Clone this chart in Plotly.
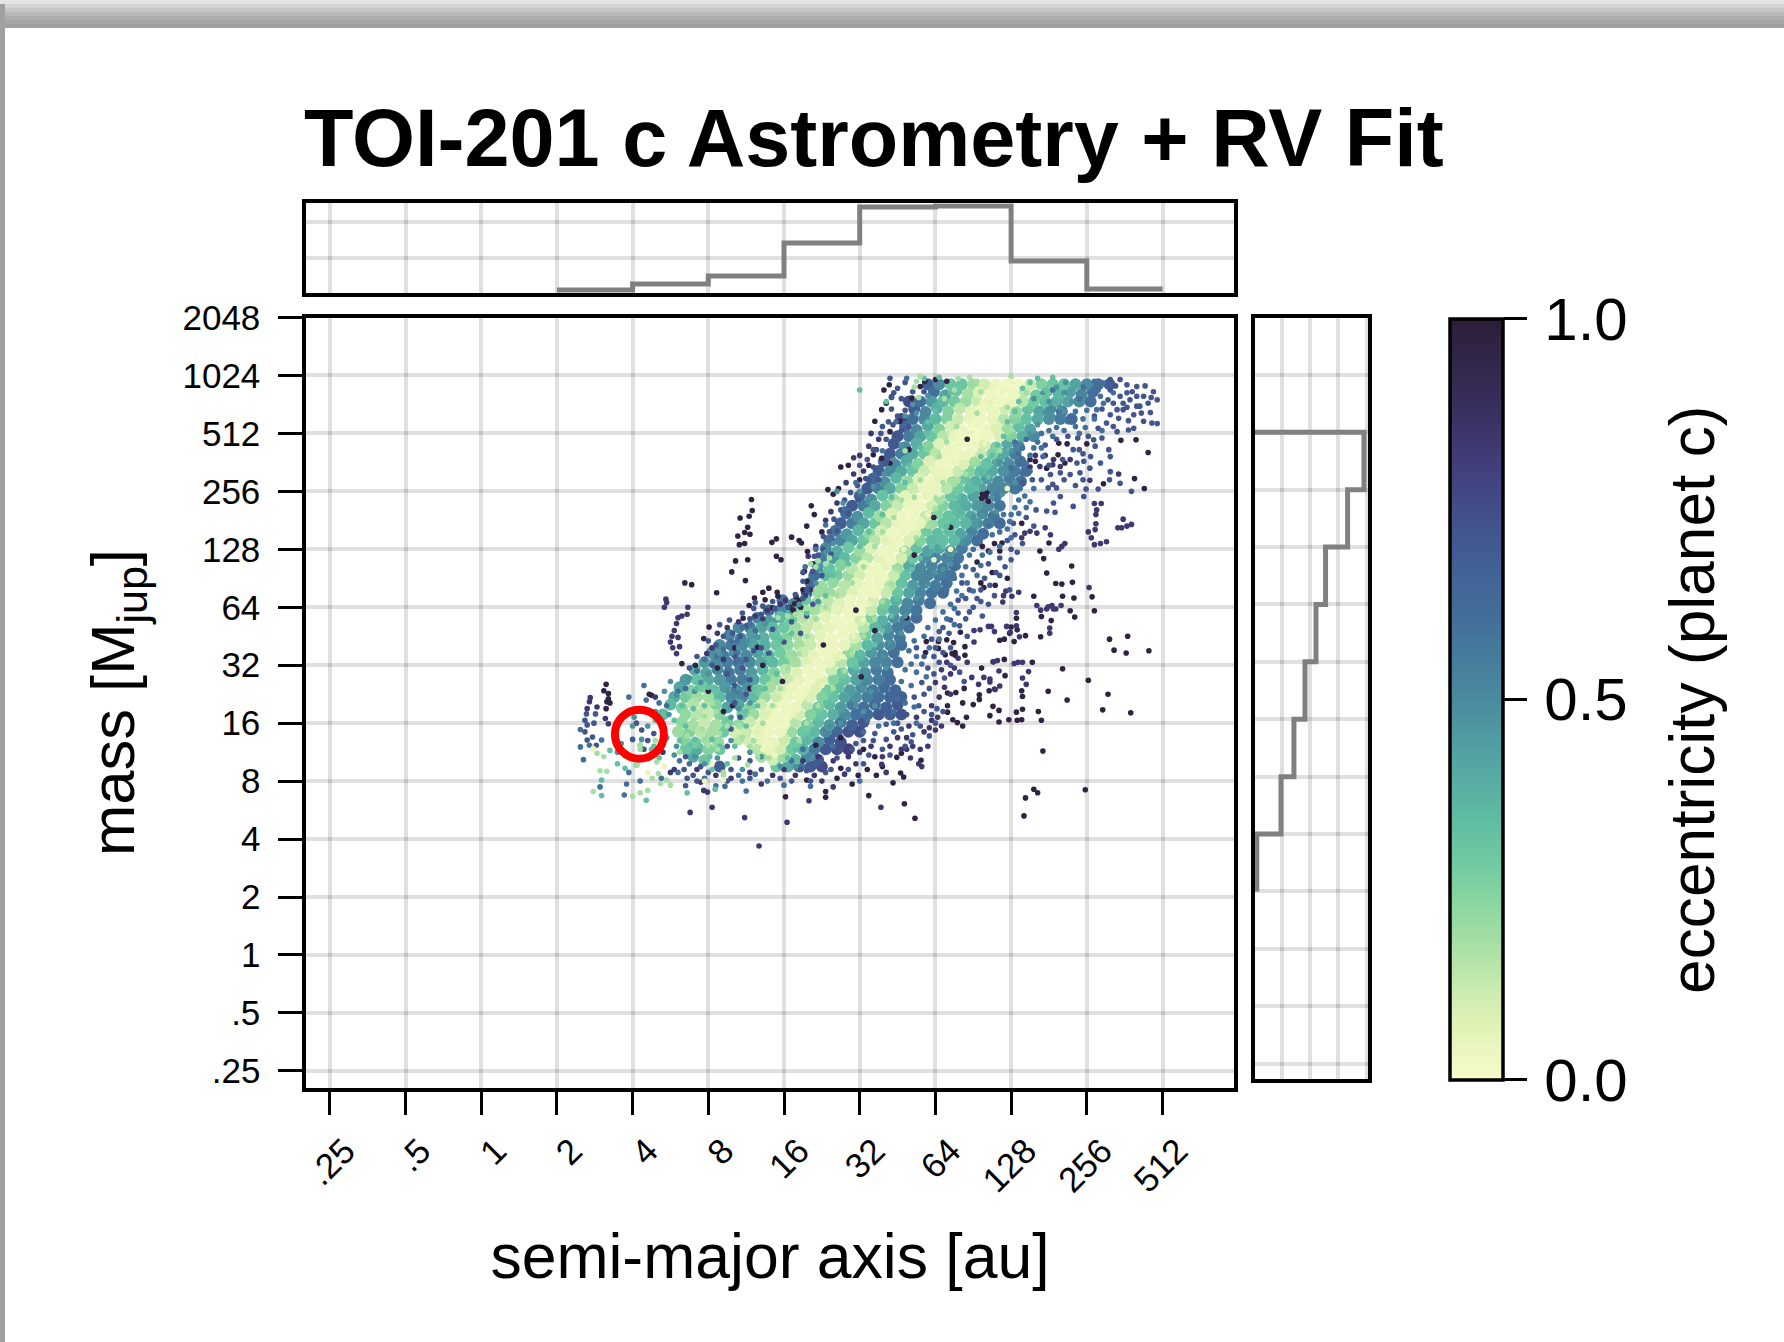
import plotly.graph_objects as go
import math

tick_values = [0.25, 0.5, 1, 2, 4, 8, 16, 32, 64, 128, 256, 512]
tick_labels = [".25", ".5", "1", "2", "4", "8", "16", "32", "64", "128", "256", "512"]
mass_tick_values = [0.25, 0.5, 1, 2, 4, 8, 16, 32, 64, 128, 256, 512, 1024, 2048]
mass_tick_labels = [".25", ".5", "1", "2", "4", "8", "16", "32", "64", "128", "256", "512", "1024", "2048"]

top_hist_edges = [2, 4, 8, 16, 32, 64, 128, 256, 512]
top_hist_levels = [0.033, 0.10, 0.19, 0.557, 0.958, 0.969, 0.356, 0.045, 0.045]
side_hist_levels = [0, 0.963, 0.819, 0.625, 0.541, 0.444, 0.347, 0.233, 0.02, 0.02]
side_hist_edges = [512, 512, 256, 128, 64, 32, 16, 8, 4, 2]

toi201c_log2_sma = [2.09]
toi201c_log2_mass = [3.81]

# densely covered part of the cloud: (log2 a, log2 m, e)
dense_cloud = [
(5.9,9.85,.68),(6.05,9.85,.5),(6.2,9.85,.3),(6.35,9.85,.3),(6.5,9.85,.2),(6.65,9.85,.1),(6.8,9.85,.03),(6.95,9.85,.02),(7.1,9.85,.02),(7.25,9.85,.12),(7.4,9.85,.25),(7.55,9.85,.3),(7.7,9.85,.32),(7.85,9.85,.42),(8.0,9.85,.5),(8.15,9.85,.6),(8.3,9.85,.68),
(5.65,9.55,.75),(5.8,9.55,.6),(5.95,9.55,.45),(6.1,9.55,.35),(6.25,9.55,.28),(6.4,9.55,.2),(6.55,9.55,.12),(6.7,9.55,.06),(6.85,9.55,.03),(7.0,9.55,.05),(7.15,9.55,.15),(7.3,9.55,.28),(7.45,9.55,.33),(7.6,9.55,.38),(7.75,9.55,.42),(7.9,9.55,.5),(8.05,9.55,.6),
(5.55,9.25,.8),(5.7,9.25,.6),(5.85,9.25,.5),(6.0,9.25,.35),(6.15,9.25,.25),(6.3,9.25,.12),(6.45,9.25,.05),(6.6,9.25,.03),(6.75,9.25,.05),(6.9,9.25,.15),(7.05,9.25,.25),(7.2,9.25,.32),(7.35,9.25,.4),(7.5,9.25,.48),(7.65,9.25,.55),(7.8,9.25,.62),
(5.5,8.95,.72),(5.65,8.95,.55),(5.8,8.95,.42),(5.95,8.95,.3),(6.1,8.95,.15),(6.25,8.95,.05),(6.4,8.95,.03),(6.55,8.95,.02),(6.7,8.95,.03),(6.85,8.95,.08),(7.0,8.95,.25),(7.15,8.95,.38),(7.3,8.95,.5),
(5.4,8.65,.7),(5.55,8.65,.55),(5.7,8.65,.4),(5.85,8.65,.3),(6.0,8.65,.15),(6.15,8.65,.04),(6.3,8.65,.03),(6.45,8.65,.04),(6.6,8.65,.12),(6.75,8.65,.25),(6.9,8.65,.4),(7.05,8.65,.55),
(5.25,8.35,.7),(5.4,8.35,.5),(5.55,8.35,.4),(5.7,8.35,.3),(5.85,8.35,.12),(6.0,8.35,.05),(6.15,8.35,.04),(6.3,8.35,.12),(6.45,8.35,.25),(6.6,8.35,.35),(6.75,8.35,.4),(6.9,8.35,.48),(7.05,8.35,.55),(7.2,8.35,.6),
(5.1,8.05,.7),(5.25,8.05,.55),(5.4,8.05,.4),(5.55,8.05,.25),(5.7,8.05,.12),(5.85,8.05,.04),(6.0,8.05,.05),(6.15,8.05,.15),(6.3,8.05,.28),(6.45,8.05,.35),(6.6,8.05,.42),(6.75,8.05,.5),(6.9,8.05,.52),(7.05,8.05,.58),
(4.9,7.75,.7),(5.05,7.75,.55),(5.2,7.75,.4),(5.35,7.75,.25),(5.5,7.75,.12),(5.65,7.75,.04),(5.8,7.75,.03),(5.95,7.75,.1),(6.1,7.75,.25),(6.25,7.75,.35),(6.4,7.75,.4),(6.55,7.75,.45),(6.7,7.75,.5),(6.85,7.75,.58),
(4.75,7.45,.68),(4.9,7.45,.55),(5.05,7.45,.42),(5.2,7.45,.3),(5.35,7.45,.15),(5.5,7.45,.05),(5.65,7.45,.03),(5.8,7.45,.05),(5.95,7.45,.2),(6.1,7.45,.3),(6.25,7.45,.33),(6.4,7.45,.36),(6.55,7.45,.45),(6.7,7.45,.55),(6.85,7.45,.62),
(4.6,7.15,.62),(4.75,7.15,.5),(4.9,7.15,.42),(5.05,7.15,.3),(5.2,7.15,.15),(5.35,7.15,.06),(5.5,7.15,.03),(5.65,7.15,.08),(5.8,7.15,.25),(5.95,7.15,.35),(6.1,7.15,.33),(6.25,7.15,.35),(6.4,7.15,.5),(6.55,7.15,.6),
(4.5,6.85,.55),(4.65,6.85,.45),(4.8,6.85,.35),(4.95,6.85,.25),(5.1,6.85,.15),(5.25,6.85,.06),(5.4,6.85,.03),(5.55,6.85,.1),(5.7,6.85,.3),(5.85,6.85,.48),(6.0,6.85,.52),(6.15,6.85,.52),(6.3,6.85,.58),
(4.4,6.55,.6),(4.55,6.55,.35),(4.7,6.55,.28),(4.85,6.55,.2),(5.0,6.55,.1),(5.15,6.55,.03),(5.3,6.55,.03),(5.45,6.55,.12),(5.6,6.55,.32),(5.75,6.55,.5),(5.9,6.55,.52),(6.05,6.55,.55),(6.2,6.55,.58),
(4.3,6.25,.65),(4.45,6.25,.2),(4.6,6.25,.2),(4.75,6.25,.15),(4.9,6.25,.08),(5.05,6.25,.03),(5.2,6.25,.03),(5.35,6.25,.12),(5.5,6.25,.3),(5.65,6.25,.42),(5.8,6.25,.52),(5.95,6.25,.58),(6.1,6.25,.62),
(3.8,5.95,.6),(3.95,5.95,.5),(4.1,5.95,.4),(4.25,5.95,.2),(4.4,5.95,.18),(4.55,5.95,.12),(4.7,5.95,.06),(4.85,5.95,.03),(5.0,5.95,.03),(5.15,5.95,.12),(5.3,5.95,.3),(5.45,5.95,.42),(5.6,5.95,.52),(5.75,5.95,.58),
(3.4,5.65,.5),(3.55,5.65,.55),(3.7,5.65,.42),(3.85,5.65,.35),(4.0,5.65,.3),(4.15,5.65,.2),(4.3,5.65,.12),(4.45,5.65,.08),(4.6,5.65,.05),(4.75,5.65,.03),(4.9,5.65,.04),(5.05,5.65,.15),(5.2,5.65,.35),(5.35,5.65,.45),(5.5,5.65,.55),(5.65,5.65,.6),
(3.15,5.35,.5),(3.3,5.35,.55),(3.45,5.35,.5),(3.6,5.35,.42),(3.75,5.35,.38),(3.9,5.35,.3),(4.05,5.35,.22),(4.2,5.35,.18),(4.35,5.35,.12),(4.5,5.35,.05),(4.65,5.35,.03),(4.8,5.35,.05),(4.95,5.35,.18),(5.1,5.35,.35),(5.25,5.35,.48),(5.4,5.35,.52),(5.55,5.35,.6),
(2.95,5.05,.45),(3.1,5.05,.5),(3.25,5.05,.55),(3.4,5.05,.6),(3.55,5.05,.5),(3.7,5.05,.42),(3.85,5.05,.35),(4.0,5.05,.28),(4.15,5.05,.18),(4.3,5.05,.08),(4.45,5.05,.03),(4.6,5.05,.04),(4.75,5.05,.15),(4.9,5.05,.3),(5.05,5.05,.42),(5.2,5.05,.5),(5.35,5.05,.52),(5.5,5.05,.6),
(2.7,4.75,.45),(2.85,4.75,.32),(3.0,4.75,.4),(3.15,4.75,.45),(3.3,4.75,.55),(3.45,4.75,.55),(3.6,4.75,.42),(3.75,4.75,.3),(3.9,4.75,.2),(4.05,4.75,.12),(4.2,4.75,.05),(4.35,4.75,.03),(4.5,4.75,.08),(4.65,4.75,.25),(4.8,4.75,.32),(4.95,4.75,.42),(5.1,4.75,.5),(5.25,4.75,.55),(5.4,4.75,.62),
(2.55,4.45,.4),(2.7,4.45,.28),(2.85,4.45,.2),(3.0,4.45,.2),(3.15,4.45,.35),(3.3,4.45,.5),(3.45,4.45,.52),(3.6,4.45,.35),(3.75,4.45,.2),(3.9,4.45,.12),(4.05,4.45,.04),(4.2,4.45,.03),(4.35,4.45,.08),(4.5,4.45,.25),(4.65,4.45,.32),(4.8,4.45,.42),(4.95,4.45,.48),(5.1,4.45,.55),(5.25,4.45,.6),(5.4,4.45,.65),(5.55,4.45,.68),
(2.4,4.15,.35),(2.7,4.15,.22),(2.85,4.15,.15),(3.0,4.15,.12),(3.15,4.15,.25),(3.45,4.15,.3),(3.6,4.15,.2),(3.75,4.15,.08),(3.9,4.15,.03),(4.05,4.15,.03),(4.2,4.15,.1),(4.35,4.15,.25),(4.5,4.15,.32),(4.65,4.15,.38),(4.8,4.15,.5),(4.95,4.15,.6),(5.1,4.15,.62),(5.25,4.15,.7),(5.4,4.15,.68),(5.55,4.15,.72),
(2.6,3.85,.2),(2.75,3.85,.25),(2.9,3.85,.15),(3.05,3.85,.18),(3.2,3.85,.3),(3.35,3.85,.1),(3.5,3.85,.12),(3.65,3.85,.06),(3.8,3.85,.03),(3.95,3.85,.04),(4.1,3.85,.2),(4.25,3.85,.3),(4.4,3.85,.35),(4.55,3.85,.5),(4.7,3.85,.65),(4.85,3.85,.72),(5.0,3.85,.75),
(2.7,3.55,.3),(2.85,3.55,.4),(3.0,3.55,.25),(3.15,3.55,.3),(3.65,3.55,.15),(3.8,3.55,.05),(3.95,3.55,.1),(4.1,3.55,.28),(4.25,3.55,.38),(4.4,3.55,.55),(4.55,3.55,.7),(4.7,3.55,.75),(4.85,3.55,.8),
(3.15,3.25,.7),(3.9,3.25,.3),(4.05,3.25,.4),(4.2,3.25,.6),(4.35,3.25,.7),(4.5,3.25,.75),
]
dense_cloud_between = [
(5.98,9.72,.6),(6.13,9.66,.42),(6.28,9.74,.3),(6.43,9.68,.18),(6.58,9.72,.08),(6.73,9.67,.03),(6.88,9.73,.02),(7.03,9.68,.03),(7.18,9.72,.14),(7.33,9.66,.28),(7.48,9.73,.32),(7.63,9.68,.36),(7.78,9.72,.44),(7.93,9.67,.52),(8.08,9.72,.62),
(5.72,9.42,.7),(5.87,9.37,.5),(6.02,9.44,.38),(6.17,9.38,.25),(6.32,9.43,.14),(6.47,9.37,.06),(6.62,9.42,.03),(6.77,9.38,.04),(6.92,9.43,.1),(7.07,9.37,.22),(7.22,9.42,.32),(7.37,9.38,.42),(7.52,9.43,.5),(7.67,9.38,.58),
(5.6,9.12,.65),(5.75,9.06,.5),(5.9,9.13,.4),(6.05,9.07,.25),(6.2,9.12,.1),(6.35,9.06,.03),(6.5,9.13,.02),(6.65,9.07,.03),(6.8,9.12,.08),(6.95,9.07,.2),(7.1,9.12,.32),(7.25,9.07,.42),
(5.45,8.82,.7),(5.6,8.76,.5),(5.75,8.83,.38),(5.9,8.77,.25),(6.05,8.82,.08),(6.2,8.77,.03),(6.35,8.83,.02),(6.5,8.77,.03),(6.65,8.82,.1),(6.8,8.76,.25),(6.95,8.83,.4),(7.1,8.78,.52),
(5.32,8.52,.68),(5.47,8.46,.5),(5.62,8.53,.4),(5.77,8.47,.25),(5.92,8.52,.08),(6.07,8.47,.03),(6.22,8.53,.03),(6.37,8.47,.08),(6.52,8.52,.2),(6.67,8.47,.32),(6.82,8.52,.42),(6.97,8.47,.5),(7.12,8.52,.6),
(5.18,8.22,.65),(5.33,8.16,.48),(5.48,8.23,.35),(5.63,8.17,.22),(5.78,8.22,.08),(5.93,8.17,.03),(6.08,8.23,.06),(6.23,8.17,.18),(6.38,8.22,.3),(6.53,8.17,.38),(6.68,8.22,.45),(6.83,8.17,.5),(6.98,8.22,.55),(7.13,8.17,.6),
(5.0,7.92,.65),(5.15,7.86,.48),(5.3,7.93,.32),(5.45,7.87,.18),(5.6,7.92,.06),(5.75,7.87,.03),(5.9,7.93,.05),(6.05,7.87,.18),(6.2,7.92,.3),(6.35,7.87,.38),(6.5,7.92,.42),(6.65,7.87,.48),(6.8,7.92,.55),
(4.82,7.62,.62),(4.97,7.56,.48),(5.12,7.63,.35),(5.27,7.57,.2),(5.42,7.62,.08),(5.57,7.57,.03),(5.72,7.63,.03),(5.87,7.57,.12),(6.02,7.62,.25),(6.17,7.57,.32),(6.32,7.62,.36),(6.47,7.57,.42),(6.62,7.62,.5),(6.77,7.57,.58),
(4.68,7.32,.58),(4.83,7.26,.46),(4.98,7.33,.36),(5.13,7.27,.22),(5.28,7.32,.1),(5.43,7.27,.03),(5.58,7.33,.03),(5.73,7.27,.08),(5.88,7.32,.28),(6.03,7.27,.33),(6.18,7.32,.33),(6.33,7.27,.42),(6.48,7.32,.52),(6.63,7.27,.6),
(4.55,7.02,.5),(4.7,6.96,.4),(4.85,7.03,.3),(5.0,6.97,.2),(5.15,7.02,.08),(5.3,6.97,.03),(5.45,7.03,.04),(5.6,6.97,.18),(5.75,7.02,.32),(5.9,6.97,.42),(6.05,7.02,.42),(6.2,6.97,.48),(6.35,7.02,.55),
(4.45,6.72,.45),(4.6,6.66,.32),(4.75,6.73,.25),(4.9,6.67,.15),(5.05,6.72,.06),(5.2,6.67,.03),(5.35,6.73,.06),(5.5,6.67,.2),(5.65,6.72,.4),(5.8,6.67,.5),(5.95,6.72,.52),(6.1,6.67,.55),(6.25,6.72,.6),
(4.35,6.42,.62),(4.5,6.36,.2),(4.65,6.43,.22),(4.8,6.37,.15),(4.95,6.42,.06),(5.1,6.37,.03),(5.25,6.43,.04),(5.4,6.37,.15),(5.55,6.42,.32),(5.7,6.37,.45),(5.85,6.42,.52),(6.0,6.37,.55),(6.15,6.42,.6),
(3.98,6.12,.6),(4.13,6.06,.5),(4.28,6.13,.3),(4.43,6.07,.2),(4.58,6.12,.14),(4.73,6.07,.08),(4.88,6.13,.03),(5.03,6.07,.03),(5.18,6.12,.1),(5.33,6.07,.28),(5.48,6.12,.38),(5.63,6.07,.5),(5.78,6.12,.55),(5.93,6.07,.6),
(3.65,5.82,.52),(3.8,5.76,.45),(3.95,5.83,.35),(4.1,5.77,.28),(4.25,5.82,.16),(4.4,5.77,.12),(4.55,5.83,.06),(4.7,5.77,.03),(4.85,5.82,.03),(5.0,5.77,.1),(5.15,5.82,.25),(5.3,5.77,.38),(5.45,5.82,.48),(5.6,5.77,.55),(5.75,5.82,.62),
(3.28,5.52,.52),(3.43,5.46,.52),(3.58,5.53,.45),(3.73,5.47,.38),(3.88,5.52,.32),(4.03,5.47,.25),(4.18,5.52,.18),(4.33,5.47,.12),(4.48,5.52,.06),(4.63,5.47,.03),(4.78,5.52,.03),(4.93,5.47,.1),(5.08,5.52,.28),(5.23,5.47,.42),(5.38,5.52,.5),(5.53,5.47,.58),
(3.05,5.22,.48),(3.2,5.16,.55),(3.35,5.23,.58),(3.5,5.17,.5),(3.65,5.22,.42),(3.8,5.17,.36),(3.95,5.22,.28),(4.1,5.17,.2),(4.25,5.22,.12),(4.4,5.17,.05),(4.55,5.22,.03),(4.7,5.17,.06),(4.85,5.22,.22),(5.0,5.17,.36),(5.15,5.22,.45),(5.3,5.17,.52),(5.45,5.22,.6),
(2.82,4.92,.4),(2.97,4.86,.42),(3.12,4.93,.5),(3.27,4.87,.58),(3.42,4.92,.55),(3.57,4.87,.45),(3.72,4.92,.36),(3.87,4.87,.25),(4.02,4.92,.15),(4.17,4.87,.08),(4.32,4.92,.03),(4.47,4.87,.03),(4.62,4.92,.12),(4.77,4.87,.28),(4.92,4.92,.4),(5.07,4.87,.48),(5.22,4.92,.55),(5.37,4.87,.6),
(2.62,4.62,.42),(2.77,4.56,.25),(2.92,4.63,.28),(3.07,4.57,.32),(3.22,4.62,.45),(3.37,4.57,.55),(3.52,4.62,.48),(3.67,4.57,.3),(3.82,4.62,.18),(3.97,4.57,.08),(4.12,4.62,.04),(4.27,4.57,.03),(4.42,4.62,.08),(4.57,4.57,.28),(4.72,4.62,.35),(4.87,4.57,.45),(5.02,4.62,.5),(5.17,4.57,.58),(5.32,4.62,.62),(5.47,4.57,.66),
(2.5,4.32,.35),(2.65,4.26,.25),(2.8,4.33,.16),(2.95,4.27,.14),(3.1,4.32,.25),(3.25,4.27,.42),(3.4,4.32,.42),(3.55,4.27,.25),(3.7,4.32,.12),(3.85,4.27,.06),(4.0,4.32,.03),(4.15,4.27,.04),(4.3,4.32,.14),(4.45,4.27,.28),(4.6,4.32,.35),(4.75,4.27,.45),(4.9,4.32,.55),(5.05,4.27,.6),(5.2,4.32,.65),(5.35,4.27,.68),(5.5,4.32,.7),
(2.65,4.02,.22),(2.8,3.96,.18),(2.95,4.03,.12),(3.1,3.97,.18),(3.25,4.02,.28),(3.4,3.97,.22),(3.55,4.02,.12),(3.7,3.97,.06),(3.85,4.02,.03),(4.0,3.97,.03),(4.15,4.02,.15),(4.3,3.97,.28),(4.45,4.02,.35),(4.6,3.97,.45),(4.75,4.02,.58),(4.9,3.97,.68),(5.05,4.02,.72),
(2.68,3.72,.25),(2.83,3.66,.28),(2.98,3.73,.2),(3.13,3.67,.22),(3.4,3.72,.15),(3.55,3.67,.1),(3.7,3.72,.05),(3.85,3.67,.04),(4.0,3.72,.12),(4.15,3.67,.28),(4.3,3.72,.36),(4.45,3.67,.5),(4.6,3.72,.68),(4.75,3.67,.74),
(2.8,3.42,.4),(2.95,3.36,.3),(3.7,3.42,.18),(3.85,3.37,.1),(4.0,3.42,.22),(4.15,3.37,.35),(4.3,3.42,.5),(4.45,3.37,.7),
]

# individually visible points, one list per eccentricity class: (log2 a, log2 m)
e_layers = [0.97, 0.84, 0.72, 0.6, 0.48, 0.33, 0.18, 0.04]
near_black = [
(3.57,7.86),(3.58,7.67),(3.54,7.57),(3.42,7.54),(3.52,7.38),(3.39,7.23),(3.48,7.29),(3.55,7.26),(3.41,7.08),(3.48,7.1),(3.9,7.18),(3.84,7.12),(4.1,7.21),(4.2,7.15),(4.23,7.11),(4.31,6.96),(3.9,6.88),(3.96,6.82),(3.36,6.8),(3.52,6.82),(3.31,6.61),(3.49,6.46),(3.11,6.25),(2.69,6.42),(2.78,6.39),(3.8,6.33),(3.72,6.26),(3.91,6.26),(3.61,6.16),(3.75,6.13),(3.92,6.19),(3.54,6.03),(3.85,5.99),(3.46,5.81),(3.01,5.66),(2.94,5.46),(3.65,5.31),(2.83,5.0),
(4.14,6.06),(4.08,6.0),(4.2,6.12),(4.12,5.95),(4.22,6.0),(4.16,6.18),(4.25,6.3),(4.3,6.45),(4.27,6.62),(4.38,6.75),
(8.54,5.5),(8.3,5.45),(8.36,5.26),(8.52,5.21),(8.82,5.25),(8.02,4.74),(7.68,4.94),(7.49,4.55),(7.74,4.4),(8.28,4.5),(8.21,4.23),(8.58,4.18),(7.42,3.52),(7.3,2.86),(7.35,2.8),(7.19,2.71),(7.17,2.4),(7.98,2.85),(5.73,2.36),(5.59,2.61),(5.44,2.97),(5.12,2.75),(5.58,3.07),(5.54,3.14),(5.22,3.1),(5.81,3.36),(5.49,3.41),(5.55,3.48),
(7.07,4.19),(7.15,4.24),(7.36,4.2),(7.4,4.05),(6.84,4.02),(6.97,4.06),(7.08,4.05),(7.14,4.06),(6.72,4.13),(6.84,4.22),(6.76,4.29),(6.5,4.32),(6.58,4.41),(6.58,4.49),(6.38,4.6),(6.27,4.53),(6.16,4.52),(6.36,4.35),(6.16,4.3),(6.16,4.19),(6.41,4.1),(6.23,4.06),(6.29,4.01),(6.36,3.95),(7.14,4.56),(7.15,4.46),(6.71,4.56),(6.92,4.82),(6.61,4.95),(6.91,5.1),(7.28,5.05),
(7.04,5.41),(6.85,5.43),(6.91,5.45),(6.98,5.55),(7.0,5.66),(7.08,5.61),(7.19,5.51),(7.39,5.49),(7.53,5.77),(7.4,5.84),(7.78,5.94),(7.84,5.83),(8.1,5.94),(8.07,6.18),(6.33,5.57),(6.15,5.44),(6.04,5.41),(6.24,5.39),(6.26,5.22),(6.26,5.17),(6.22,5.2),(6.39,5.17),(6.39,5.32),(6.13,5.18),(6.04,5.29),(5.87,5.22),(5.88,5.41),(7.07,5.81),(6.64,6.34),(6.79,6.38),(7.3,6.19),(7.68,6.19),(7.83,6.16),(7.81,6.43),(7.67,6.4),(7.59,6.41),
(5.39,9.84),(5.32,9.75),(5.42,9.63),(5.35,9.52),(5.29,9.41),(5.2,9.21),(5.69,9.61),(5.8,9.81),(5.86,9.9),(6.15,9.9),(6.0,9.93),(5.53,9.21),(5.4,9.03),(5.18,8.63),(5.29,8.57),(5.4,8.49),(5.12,8.45),(5.0,8.2),(7.25,8.55),(7.32,8.52),(7.47,8.4),(7.71,8.49),(7.62,8.63),(6.66,7.91),(6.61,7.88),(6.7,7.83),(6.68,7.97),(6.62,7.95),(7.63,8.83),(7.74,8.82),(8.0,8.82),(8.65,8.89),(8.45,8.88),(8.81,8.67),(8.63,8.22),(8.76,8.05),(8.22,8.13),
(6.7,6.97),(6.85,6.97),(6.78,7.1),(6.88,7.11),(7.14,7.45),(7.5,7.11),(7.38,6.97),(7.43,6.84),(7.47,6.59),(7.8,6.71),(6.62,7.05),(6.75,6.6),(6.95,6.5),(6.6,6.42),(6.55,6.78),(4.72,8.05),(4.65,7.95),(4.58,8.03),(4.4,7.6),(4.36,7.75),(4.5,7.3),(4.3,7.4),(4.85,8.45),(4.75,8.42),
(1.65,4.67),(1.62,4.56),(1.68,4.51),(1.66,4.37),(1.7,4.35),(1.65,4.25),(1.68,4.42),(2.22,4.5),(2.25,4.48),(2.65,5.03),(3.0,4.55),(3.2,4.2),(3.35,5.3),(3.12,4.95),(3.55,4.6),(3.72,5.0),(4.3,3.02),(4.02,2.73),(4.55,2.82),(4.55,2.72),(4.98,3.1),(5.1,3.2),(5.3,3.25),(4.9,2.95),(4.7,3.05),(4.75,3.22),(5.2,3.42),(5.05,3.55),
(5.72,6.9),(5.98,7.55),(6.42,8.9),(5.65,8.72),(4.95,5.95),(4.52,5.35),(3.98,4.72),(3.32,4.3),(5.02,4.8),(5.2,5.6),(4.75,3.75),(4.42,3.62),(5.62,5.82),(6.2,7.38),
]
dark_violet = [
(6.7,5.67),(6.74,5.67),(6.78,5.58),(6.94,5.67),(7.07,5.68),(6.99,5.57),(6.9,6.2),(6.93,6.28),(7.01,6.19),(7.1,6.26),(6.89,6.09),(7.34,6.03),(7.47,5.97),(7.54,6.03),(7.59,5.97),(7.51,5.64),(7.51,5.55),(7.07,5.91),(7.39,5.95),(7.49,6.01),(7.56,5.97),(7.66,6.03),(8.03,6.34),(7.11,5.49),
(6.77,5.06),(6.82,5.08),(6.76,5.06),(7.15,5.05),(7.09,5.05),(7.04,5.03),(6.64,4.79),(6.72,4.76),(6.57,4.67),(6.72,4.71),(6.79,4.58),(6.85,4.64),(6.78,4.59),(6.48,4.79),(6.84,4.9),(7.15,4.78),(7.2,4.67),(7.23,4.89),(5.28,2.55),(5.35,3.15),(5.29,3.29),(5.82,3.25),(5.55,3.55),(5.67,3.4),(5.62,3.75),(5.9,3.6),(5.65,3.95),(5.95,4.05),(6.03,4.1),(6.08,3.95),(5.75,4.1),(5.85,3.85),(5.92,3.92),(6.0,3.88),
(6.2,4.5),(6.05,4.45),(5.95,4.3),(6.12,4.62),(6.0,4.7),(6.2,4.85),(6.08,4.92),(6.25,4.95),(6.15,5.05),(6.3,5.12),(6.42,5.05),(6.51,5.6),(6.59,5.61),(6.51,5.4),
(7.38,8.43),(7.56,8.55),(7.65,8.43),(7.45,8.62),(7.55,8.46),(7.78,8.55),(7.25,8.42),(7.32,8.62),(8.42,8.3),(8.04,8.19),(8.1,7.79),(8.19,7.79),(8.13,7.68),(8.12,7.6),(8.12,7.44),(8.11,7.34),(8.02,7.3),(8.06,7.2),(8.1,7.08),(8.18,7.1),(8.26,7.13),(8.41,7.37),(8.48,7.52),(8.53,7.4),(8.59,7.43),(8.46,7.37),(7.45,7.37),(7.52,7.25),(7.71,7.1),(7.67,7.05),(7.63,7.0),(7.18,7.28),(7.14,7.2),(7.25,7.31),(7.34,7.28),
(5.15,9.0),(5.25,8.9),(5.12,8.78),(5.0,8.62),(4.92,8.58),(5.05,8.35),(4.92,8.3),(4.82,8.15),(4.7,7.8),(4.62,7.65),(4.55,7.5),(4.42,7.05),(4.32,6.88),(4.35,6.3),(4.28,6.2),(4.02,6.12),(3.95,6.05),(3.78,5.95),(3.62,5.85),(3.72,5.8),(3.4,5.75),(3.25,5.65),(3.12,5.55),(3.05,5.3),(3.2,5.1),(2.98,5.2),
(2.73,6.0),(2.72,5.88),(2.65,5.85),(2.6,5.82),(2.58,5.72),(2.55,5.6),(2.52,5.5),(2.5,5.4),(2.53,5.3),(2.58,5.2),(2.62,5.32),(2.6,5.48),(2.42,6.0),(2.45,6.08),(2.44,6.14),
(1.44,4.44),(1.43,4.37),(1.40,4.25),(1.53,4.28),(1.64,4.08),(1.68,3.99),(2.3,4.45),(2.4,3.5),(2.5,3.15),(2.55,3.2),(2.85,3.2),(2.9,2.98),(2.94,2.84),(2.99,2.81),(3.1,3.1),(3.3,3.05),(3.55,3.15),(3.7,2.95),(3.85,3.1),(4.0,3.2),(4.15,3.1),(4.4,3.1),(4.5,3.0),(4.65,2.9),(4.8,3.12),(4.95,3.3),(4.25,3.35),(4.45,3.42),(4.65,3.35),(4.85,3.42),(5.0,3.5),(5.15,3.6),
(3.67,1.88),(3.48,2.37),(3.05,2.55),(2.76,2.46),(4.04,2.29),(4.33,2.66),(5.3,3.42),(5.4,3.6),(5.5,3.75),(5.62,3.55),(5.78,3.3),(5.7,3.6),(5.8,3.55),
]
steel_blue = [
(8.31,9.93),(8.44,9.93),(8.53,9.84),(8.66,9.81),(8.77,9.82),(8.88,9.72),(8.93,9.58),(8.81,9.52),(8.7,9.47),(8.57,9.58),(8.44,9.64),(8.31,9.75),(8.62,9.32),(8.75,9.21),(8.84,9.36),(8.93,9.17),(8.86,9.18),(8.62,9.09),(8.55,9.06),(8.4,9.03),(8.48,9.41),(8.42,9.26),(8.31,9.32),(8.4,9.41),(8.66,9.47),(8.75,9.64),(8.53,9.7),(8.66,9.64),(8.48,9.52),(8.35,9.52),(8.53,9.45),(8.72,9.35),(8.26,9.18),(8.15,9.09),
(7.82,8.72),(7.9,8.72),(7.96,8.52),(7.87,8.49),(7.91,8.32),(7.78,8.29),(7.65,8.32),(7.52,8.29),(8.18,8.49),(8.31,8.34),(8.31,8.6),(8.29,8.72),(8.09,8.89),(8.2,8.92),(8.11,8.78),(8.44,8.14),(8.59,8.0),(8.15,8.04),(7.99,8.04),(7.96,7.91),(7.82,7.74),(7.65,7.91),(7.6,8.06),(7.49,8.06),(7.56,7.8),(7.58,7.64),(7.47,7.66),(7.33,7.68),(7.03,7.45),(7.2,7.55),(7.3,7.4),(8.04,8.4),(7.95,8.2),(7.7,8.2),(7.4,8.2),(7.28,8.2),(7.15,8.15),(7.5,8.45),(7.68,8.55),
(5.4,9.95),(5.5,9.78),(5.6,9.88),(5.45,9.7),(5.55,9.6),(5.42,9.42),(5.5,9.3),(5.38,9.2),(5.3,9.12),(5.44,9.15),(5.6,9.4),(5.35,8.9),(5.22,8.72),(5.1,8.55),(5.18,8.42),(5.08,8.22),(4.97,8.1),(4.88,7.98),(4.8,7.85),(4.75,7.68),(4.66,7.52),(4.6,7.3),(4.52,7.22),(4.45,6.9),(4.38,6.62),(4.25,6.45),(4.3,6.3),(4.15,6.22),(4.05,6.0),(3.88,5.98),(3.7,5.88),(3.55,5.8),(3.32,5.55),(3.42,5.5),(3.2,5.5),(3.1,5.35),(3.35,5.15),(3.5,5.1),(3.6,5.25),(3.7,5.3),(3.05,5.0),(3.25,4.85),(3.45,4.95),(3.55,4.75),(3.35,4.65),(3.5,4.5),(3.35,4.35),
(2.05,4.0),(2.12,3.88),(2.0,3.72),(2.2,3.7),(2.28,3.82),(2.15,3.55),(1.37,3.85),(1.39,4.16),(1.51,4.16),(1.37,4.05),(1.40,3.97),(1.49,4.0),(1.40,3.71),(1.47,3.76),(1.52,3.62),
(2.7,3.42),(2.68,3.2),(2.72,3.05),(2.8,3.1),(2.9,3.25),(2.7,2.92),(2.85,3.0),(3.0,3.15),(3.25,3.0),(3.3,3.2),(3.55,3.05),(3.7,3.2),(3.4,3.4),(3.55,3.35),(3.95,3.05),(4.1,3.0),(4.3,3.18),(4.55,3.15),(4.7,3.4),(4.9,3.55),(5.05,3.3),(4.85,3.2),(5.05,3.7),(5.2,3.82),(5.3,3.55),(5.4,3.45),(5.45,3.85),(5.6,3.6),(5.35,3.98),(5.5,4.0),(5.7,3.8),(5.8,3.95),(5.62,4.15),(5.78,4.3),(5.85,4.2),(5.95,4.15),(5.72,4.45),(5.85,4.5),(5.92,4.6),(5.82,4.7),(5.98,4.85),(6.05,5.05),(6.12,4.78),(5.9,4.95),(5.85,5.15),(5.98,5.15),(5.75,5.3),(5.95,5.45),(6.1,5.65),(6.2,5.78),(6.3,5.9),(6.4,5.8),(6.5,6.0),(6.55,6.15),(6.4,6.15),(6.3,6.12),(6.45,6.3),(6.6,6.1),(6.35,6.42),(6.5,6.65),(6.65,6.5),(6.8,6.6),(6.7,6.75),(6.85,6.85),(7.0,7.0),(6.95,7.15),(7.05,7.25),(7.15,7.1),
(3.42,4.1),(3.3,3.9),(3.25,3.6),(4.0,5.4),(3.85,5.62),(4.1,5.75),(4.3,5.85),(4.25,6.15),(4.38,6.05),(4.22,5.55),(3.8,5.2),(4.5,6.55),(4.62,6.92),(4.7,7.32),(4.85,7.62),(4.98,7.85),(5.12,8.18),(5.25,8.2),(5.35,8.5),(5.5,8.8),(5.55,9.05),(5.65,9.12),(5.7,9.72),(5.85,9.72),
(8.1,9.3),(8.2,9.42),(8.28,9.58),(8.38,9.82),(8.6,9.72),(8.85,9.62),(8.55,9.22),(8.35,9.12),(8.02,8.95),(7.88,8.92),(7.75,8.95),(7.6,8.9),(7.45,8.8),(7.95,8.65),(8.05,8.6),(7.55,8.12),(7.85,8.1),(8.3,8.2),
(6.2,5.3),(6.1,5.22),(6.05,5.58),(6.18,5.55),(6.32,5.68),(6.42,5.5),(6.0,5.3),(6.45,5.92),(6.62,5.85),(6.7,6.05),(6.78,6.2),(6.6,6.3),(6.72,6.38),(6.85,6.55),(6.92,6.7),(7.0,6.82),(7.08,6.95),(6.98,6.3),(6.2,5.0),(6.32,4.88),(6.38,4.72),(5.68,3.68),(5.92,3.78),(6.0,4.0),(6.1,4.2),(6.02,4.25),(5.55,3.9),(5.35,3.72),(5.18,3.7),(4.95,3.65),(4.75,3.55),(5.12,3.45),(4.62,3.2),(4.35,3.0),(4.22,3.2),
(3.15,5.7),(3.28,5.78),(3.45,5.9),(3.6,5.98),(3.5,5.68),(3.0,5.42),(2.85,5.15),(2.75,4.95),(3.85,6.1),(3.72,6.02),(3.62,6.08),(4.4,6.88),(4.52,7.0),(4.25,6.6),(5.0,8.45),(5.18,8.72),(5.28,9.0),(5.42,9.62),
]
teal_blue = [
(8.22,9.52),(8.22,9.87),(8.13,9.41),(8.04,9.55),(8.18,9.64),(8.35,9.7),(8.1,9.9),(7.95,9.8),(8.05,9.7),(7.9,9.6),(8.0,9.4),(7.85,9.38),(7.95,9.25),(7.75,9.2),(7.6,9.1),(7.7,9.05),(7.5,9.05),(7.4,9.0),(8.1,9.25),(7.85,9.12),(8.2,9.05),(7.55,9.75),(8.15,9.75),
(7.3,8.75),(7.15,8.75),(7.2,8.9),(7.35,8.85),(7.05,8.85),(7.1,8.65),(7.25,8.62),(7.0,8.4),(7.15,8.3),(7.25,8.35),(7.3,8.05),(7.18,7.92),(7.1,7.85),(7.05,7.72),(7.2,7.72),(7.0,7.6),(6.9,7.6),(6.85,7.3),(6.95,7.35),(6.75,7.25),(6.65,7.3),(6.7,7.42),(6.6,7.2),(6.5,7.0),(6.45,6.9),(6.62,6.9),(6.4,6.7),(6.3,6.7),(6.25,6.5),(6.35,6.55),(6.15,6.3),(6.28,6.28),(6.2,6.05),(6.1,5.92),(6.0,5.78),(5.9,5.65),(5.85,5.5),(5.72,5.42),(5.65,5.25),(5.75,5.15),(5.68,5.02),(5.75,4.88),(5.6,4.92),(5.55,4.72),(5.68,4.65),(5.6,4.35),(5.72,4.28),(5.5,4.42),(5.45,4.2),
(1.31,3.89),(1.31,3.59),(1.35,3.37),(1.59,3.71),(1.43,3.62),(1.57,2.9),(1.89,2.76),(1.92,2.95),(1.95,3.15),(2.1,3.0),(2.38,3.05),(2.6,3.15),(2.62,3.35),(2.75,3.3),(2.95,3.05),(3.1,2.92),(3.22,2.91),(3.45,3.0),(3.5,2.83),(3.78,3.0),(3.4,3.1),(3.62,3.12),(4.0,2.93),(4.35,2.91),(5.0,3.0),(4.1,3.35),(4.25,3.55),(4.65,3.6),(5.05,3.85),(5.25,3.95),(5.1,4.05),
(4.38,6.48),(4.28,6.7),(4.42,7.0),(4.55,7.42),(4.8,7.7),(4.95,8.15),(5.3,8.7),(5.48,9.2),(5.62,9.95),(3.3,5.42),(3.38,5.42),(3.2,5.28),(3.45,5.65),(3.55,5.72),(3.62,5.6),(3.1,5.15),(2.95,5.1),(2.85,4.9),(2.7,4.6),(2.6,4.55),(2.45,4.3),(2.35,4.35),(2.15,4.65),(2.18,4.4),(1.95,4.45),
(6.85,7.05),(6.72,6.95),(6.55,6.55),(6.6,6.72),(6.42,6.42),(6.35,6.2),(6.5,6.28),(6.25,5.98),(6.15,5.8),(6.25,5.7),(6.05,5.45),(5.92,5.3),(5.82,5.02),(5.88,4.8),(5.45,4.0),(5.75,4.0),(7.42,8.6),(7.2,8.48),(7.4,8.75),(7.12,8.05),(7.25,7.82),(7.1,7.62),(6.98,7.48),(7.0,7.2),(7.55,8.95),(7.9,9.0),(7.98,9.1),
]
teal = [
(7.6,9.8),(7.7,9.7),(7.5,9.55),(7.8,9.55),(7.65,9.45),(7.45,9.35),(7.55,9.3),(7.7,9.38),(7.35,9.15),(7.25,9.0),(7.42,9.7),(7.72,9.88),(7.3,9.6),
(6.95,8.55),(7.0,8.7),(6.85,8.5),(7.05,8.15),(6.95,8.1),(6.88,7.95),(6.75,7.9),(6.8,7.65),(6.62,7.6),(6.5,7.55),(6.6,7.45),(6.35,7.1),(6.45,7.2),(6.2,6.75),(6.1,6.65),(6.0,6.6),(5.9,6.4),(5.75,6.15),(5.6,5.85),(5.55,5.55),(5.4,5.4),(5.3,5.15),(5.35,4.95),(5.15,4.55),(5.05,4.6),(4.95,4.3),(4.75,4.0),(4.6,3.95),(4.5,3.7),(4.38,3.4),(4.15,3.25),(3.95,3.25),(5.2,4.3),(5.05,4.2),(4.85,4.1),
(4.65,7.1),(4.55,6.95),(4.48,6.65),(4.42,6.42),(4.45,6.1),(4.2,6.05),(3.9,5.78),(3.75,5.72),(3.65,5.48),(3.52,5.42),(3.4,5.3),(3.3,5.2),(3.15,5.2),(3.05,5.15),(3.0,4.85),(2.9,4.7),(2.75,4.78),(2.82,4.55),(3.25,4.55),(3.4,4.6),(3.55,4.35),(3.4,4.25),(3.3,4.1),(3.3,3.7),(3.12,3.4),(2.95,3.3),(2.82,3.42),(3.45,3.2),(3.55,3.5),(3.7,3.42),
(4.7,8.0),(4.78,7.8),(5.0,8.0),(5.18,8.08),(5.32,8.3),(5.45,8.55),(5.55,8.8),(5.6,9.3),(5.75,9.35),(5.7,9.5),(5.9,9.65),
(2.02,4.1),(2.0,3.95),(2.12,3.72),(2.2,3.95),(2.1,3.62),(2.42,4.55),(2.5,4.72),(2.58,4.48),(2.48,4.15),(2.3,4.2),(2.38,3.95),(2.45,3.75),(2.58,3.6),(2.55,3.45),(1.85,3.65),(1.8,3.5),(2.0,3.4),
]
green = [
(7.55,9.97),(7.35,9.95),(7.25,9.88),(7.45,9.75),(7.15,9.78),(7.1,9.55),(7.05,9.38),(7.2,9.4),(6.95,9.2),(7.08,9.12),(6.9,8.95),(6.82,8.8),
(6.7,8.55),(6.6,8.6),(6.75,8.62),(6.55,8.3),(6.7,8.25),(6.45,8.15),(6.55,8.05),(6.3,7.9),(6.25,7.65),(6.35,7.55),(6.15,7.4),(6.05,7.3),(6.2,7.25),(5.95,7.05),(6.1,7.05),(5.8,6.85),(5.68,6.65),(5.6,6.4),(5.5,6.15),(5.42,5.85),(5.3,5.6),(5.2,5.35),(5.0,5.2),(4.95,4.95),(4.85,4.75),(4.7,4.55),(4.55,4.35),(4.45,4.05),(4.35,3.75),(4.15,3.55),(4.05,3.4),
(5.85,9.95),(6.05,9.97),(6.2,9.7),(6.0,9.4),(5.9,9.2),(5.88,9.0),(5.8,8.75),(5.65,8.45),(5.6,8.15),(5.42,7.9),(5.3,7.6),(5.12,7.3),(5.0,7.05),(4.85,6.75),(4.65,6.55),(4.55,6.2),(4.3,5.9),(4.1,5.55),(3.95,5.45),(3.8,5.12),(3.9,4.85),(3.75,4.6),(3.6,4.6),(3.65,4.3),(3.5,4.2),(3.5,3.95),(3.35,3.6),
(3.1,4.6),(3.0,4.62),(2.85,4.6),(2.95,4.3),(2.8,4.25),(2.65,4.3),(2.55,4.05),(2.7,3.95),(2.82,3.72),(2.9,3.6),(3.05,3.72),(3.15,3.6),(3.25,3.3),(3.05,3.2),(2.75,3.62),(2.62,3.7),
(2.3,4.05),(2.4,4.15),(2.28,3.6),(2.35,3.4),(2.18,3.4),(2.25,3.55),(2.05,3.28),(1.9,3.22),(1.8,3.3),(1.59,3.02),(1.59,2.75),(1.7,3.53),(2.18,2.67),(3.09,2.86),(2.72,2.8),(3.02,3.42),
(5.0,9.75),(5.35,9.55),
]
light = [
(6.45,9.97),(6.3,9.95),(6.55,9.9),(6.25,9.75),(6.12,9.6),(6.6,9.72),(7.0,9.98),(7.2,9.7),(6.95,9.45),(6.55,9.35),(6.28,9.12),(6.15,8.85),(6.05,8.6),(6.85,8.7),(6.5,8.55),(6.4,8.3),(6.3,8.2),(6.1,8.15),(5.8,8.2),(5.72,7.9),(5.55,7.85),(6.0,7.7),(5.45,7.55),(5.9,7.4),(5.3,7.3),(5.75,7.2),(5.2,7.05),(5.65,6.95),(5.05,6.7),(5.5,6.65),(4.9,6.42),(5.42,6.4),(4.7,6.2),(4.55,6.0),(5.3,6.1),(4.42,5.8),(5.2,5.8),(4.3,5.5),(5.05,5.5),(4.2,5.2),(4.9,5.2),(4.05,4.95),(4.8,4.9),(3.95,4.6),(4.65,4.6),(3.85,4.3),(4.45,4.3),(3.72,4.0),(4.3,4.0),(3.6,3.7),(4.2,3.7),(3.8,3.4),(3.95,3.38),(3.65,3.42),
(5.8,9.98),(5.75,9.9),(5.72,9.8),(5.78,9.62),(5.6,8.7),(4.6,6.85),(4.55,6.75),(4.45,6.8),(4.35,6.75),(4.42,6.7),(4.3,5.98),(4.15,5.88),(4.05,5.85),(3.92,5.82),
(2.85,4.42),(2.95,4.45),(3.05,4.35),(3.1,4.2),(2.95,4.12),(2.8,4.05),(2.92,3.9),(3.05,3.95),(3.15,3.82),(3.0,3.62),(3.12,3.55),(2.72,3.78),(2.62,3.5),(3.25,3.95),(3.4,3.95),(3.45,3.75),(3.55,3.6),(3.35,3.4),(3.2,3.15),(3.52,3.28),(3.2,3.1),
(2.3,3.7),(2.4,3.62),(2.1,3.55),(2.1,3.62),(1.62,3.42),(1.53,3.48),(1.66,3.17),(1.57,3.18),(1.48,2.82),(2.06,3.28),(2.32,3.33),(2.34,3.13),(2.26,3.05),(2.37,2.96),(2.45,3.02),(2.5,2.93),(2.2,2.84),(2.1,2.8),(2.0,2.74),
]
pale = [
(6.75,9.8),(6.88,9.72),(7.0,9.9),(7.05,9.72),(6.78,9.62),(6.95,9.6),(6.62,9.55),(6.7,9.4),(6.55,9.15),(6.7,9.1),(6.4,9.05),(6.5,8.85),(6.65,8.82),(6.3,8.8),(6.2,8.75),(6.35,8.6),(6.45,8.7),(6.25,8.5),(6.1,8.42),(6.2,8.3),(5.95,8.2),(6.05,7.95),(5.9,7.88),(5.75,7.65),(5.9,7.6),(5.7,7.5),(5.6,7.3),(5.72,7.35),(5.45,7.1),(5.58,7.0),(5.35,6.95),(5.45,6.78),(5.22,6.6),(5.35,6.5),(5.1,6.35),(5.25,6.3),(5.0,6.1),(5.12,6.05),(4.9,5.85),(5.05,5.78),(4.8,5.55),(4.92,5.5),(4.68,5.25),(4.78,5.15),(4.55,5.0),(4.42,4.85),(4.5,4.65),(4.3,4.55),(4.2,4.4),(4.12,4.15),(3.95,4.05),(3.85,3.95),(4.0,3.85),(3.78,3.72),(3.9,3.65),(3.72,3.55),(3.88,3.45),
(6.2,7.0),(6.95,8.05),(5.98,6.82),(3.05,3.3),(2.95,3.0),(3.2,3.02),(1.48,3.56),(1.9,3.42),(2.2,3.15),(2.42,3.25),
]
fine_layers = [near_black, dark_violet, steel_blue, teal_blue, teal, green, light, pale]

# ---------- page furniture ----------
shadow_strips = ["#e4e4e4", "#d4d4d4", "#c6c6c6", "#b8b8b8", "#aeaeae", "#a6a6a6", "#a0a0a0"]

colors = [[0.0, "#f7fbc8"], [0.076, "#dff2b5"], [0.12, "#c9ebaf"], [0.18, "#a6dfa4"], [0.228, "#8dd7a0"],
          [0.28, "#72cba0"], [0.34, "#5fbda3"], [0.437, "#529fa2"], [0.5, "#4a8a9e"], [0.6, "#43709a"],
          [0.68, "#416095"], [0.8, "#43407e"], [0.9, "#372c58"], [1.0, "#2c1e38"]]

W, H = 1784, 1342
def dx(a, b): return [a / W, b / W]
def dy(top, bottom): return [1 - bottom / H, 1 - top / H]
LOG2 = math.log10(2)
x_range = [-2.313 * LOG2, 9.943 * LOG2]
side_y_range = [-2.26 * LOG2, 11 * LOG2]

fig = go.Figure()

# dense part, painted first
order = sorted(dense_cloud + dense_cloud_between, key=lambda p: -p[2])
fig.add_trace(go.Scatter(x=[2 ** p[0] for p in order], y=[2 ** p[1] for p in order], mode="markers",
                         xaxis="x", yaxis="y", showlegend=False,
                         marker=dict(size=12, color=[p[2] for p in order], coloraxis="coloraxis", line_width=0)))
# individual points, high eccentricity first
fine_x, fine_y, fine_e = [], [], []
for e, layer in zip(e_layers, fine_layers):
    for a, m in layer:
        fine_x.append(2 ** a); fine_y.append(2 ** m); fine_e.append(e)
fig.add_trace(go.Scatter(x=fine_x, y=fine_y, mode="markers", xaxis="x", yaxis="y", showlegend=False,
                         marker=dict(size=5.6, color=fine_e, coloraxis="coloraxis", line_width=0)))
# TOI-201 c itself
fig.add_trace(go.Scatter(x=[2 ** v for v in toi201c_log2_sma], y=[2 ** v for v in toi201c_log2_mass],
                         mode="markers", xaxis="x", yaxis="y", showlegend=False,
                         marker=dict(symbol="circle-open", size=49, color="#ff0000", line=dict(width=8, color="#ff0000"))))
# marginal histograms
fig.add_trace(go.Scatter(x=top_hist_edges, y=top_hist_levels, mode="lines", xaxis="x2", yaxis="y2", showlegend=False,
                         line=dict(color="#808080", width=5, shape="hv")))
fig.add_trace(go.Scatter(x=side_hist_levels, y=side_hist_edges, mode="lines", xaxis="x3", yaxis="y3", showlegend=False,
                         line=dict(color="#808080", width=5, shape="vh")))

GRID = "rgba(0,0,0,0.12)"
FONT = "Liberation Sans"
frame = dict(showline=True, linecolor="#000000", linewidth=3.5, mirror=True, zeroline=False,
             showgrid=True, gridcolor=GRID, gridwidth=3.5)

fig.update_layout(
    width=W, height=H, autosize=False,
    margin=dict(l=0, r=0, t=0, b=0, pad=0),
    paper_bgcolor="#ffffff", plot_bgcolor="#ffffff",
    font=dict(family=FONT, color="#000000"),
    title=dict(text="<b>TOI-201 c Astrometry + RV Fit</b>", x=304 / W, xref="paper", xanchor="left",
               y=1 - 138 / H, yref="paper", yanchor="middle", font=dict(family=FONT, size=81, color="#000000")),
    xaxis=dict(domain=dx(306.1, 1233.9), anchor="y", type="log", range=x_range, tickmode="array",
               tickvals=tick_values, ticktext=tick_labels, ticks="outside", ticklen=24, tickwidth=3,
               tickcolor="#000000", tickangle=-45, tickfont=dict(size=35, family=FONT), ticklabelshift=15,
               ticklabelstandoff=1, title=dict(text="semi-major axis [au]", font=dict(size=62.5, family=FONT), standoff=37),
               automargin=False, **frame),
    yaxis=dict(domain=dy(317.5, 1087.5), anchor="x", type="log", range=[-2.287 * LOG2, 11 * LOG2], tickmode="array",
               tickvals=mass_tick_values, ticktext=mass_tick_labels, ticks="outside", ticklen=24, tickwidth=3,
               tickcolor="#000000", tickfont=dict(size=35, family=FONT), ticklabelstandoff=11,
               title=dict(text="mass [M<sub>jup</sub>]", font=dict(size=61.5, family=FONT), standoff=29),
               automargin=False, **frame),
    xaxis2=dict(domain=dx(306.1, 1233.9), anchor="y2", type="log", range=x_range, tickmode="array",
                tickvals=tick_values, showticklabels=False, ticks="", **frame),
    yaxis2=dict(domain=dy(203.2, 293), anchor="x2", range=[0, 1], tickmode="array", tickvals=[0.386, 0.787],
                showticklabels=False, ticks="", **frame),
    xaxis3=dict(domain=dx(1254.5, 1368.2), anchor="y3", range=[0, 1], tickmode="array", tickvals=[0.239, 0.485, 0.732, 0.987],
                showticklabels=False, ticks="", **frame),
    yaxis3=dict(domain=dy(317.5, 1078.5), anchor="x3", type="log", range=side_y_range, tickmode="array",
                tickvals=mass_tick_values, showticklabels=False, ticks="", **frame),
    coloraxis=dict(cmin=0, cmax=1, colorscale=colors,
                   colorbar=dict(x=1450 / W, xanchor="left", xpad=0, ypad=0,
                                 y=1 - 699 / H, yanchor="middle", lenmode="pixels", len=761,
                                 thicknessmode="pixels", thickness=53, outlinewidth=3.5, outlinecolor="#000000",
                                 borderwidth=0, tickmode="array", tickvals=[0, 0.5, 1],
                                 ticktext=["\u200a0.0", "\u200a0.5", "\u200a1.0"],
                                 ticks="outside", ticklen=23, tickwidth=3, tickcolor="#000000",
                                 tickfont=dict(size=60, family=FONT))),
    annotations=[dict(text="eccentricity (planet c)", textangle=-90, xref="paper", yref="paper",
                      x=1692 / W, y=1 - 700 / H, xanchor="center", yanchor="middle", showarrow=False,
                      font=dict(size=62.3, family=FONT))],
    shapes=[dict(type="rect", xref="paper", yref="paper", x0=0, x1=1, y0=1 - (i + 1) * 4 / H, y1=1 - i * 4 / H,
                 fillcolor=c, line_width=0, layer="below") for i, c in enumerate(shadow_strips)]
           + [dict(type="rect", xref="paper", yref="paper", x0=0, x1=5 / W, y0=0, y1=1 - 4 / H,
                   fillcolor="#a0a0a0", line_width=0, layer="below")],
)

fig.write_html("out.html", config={"displayModeBar": False},
               post_script="document.body.style.margin='0';document.body.style.overflow='hidden';")
